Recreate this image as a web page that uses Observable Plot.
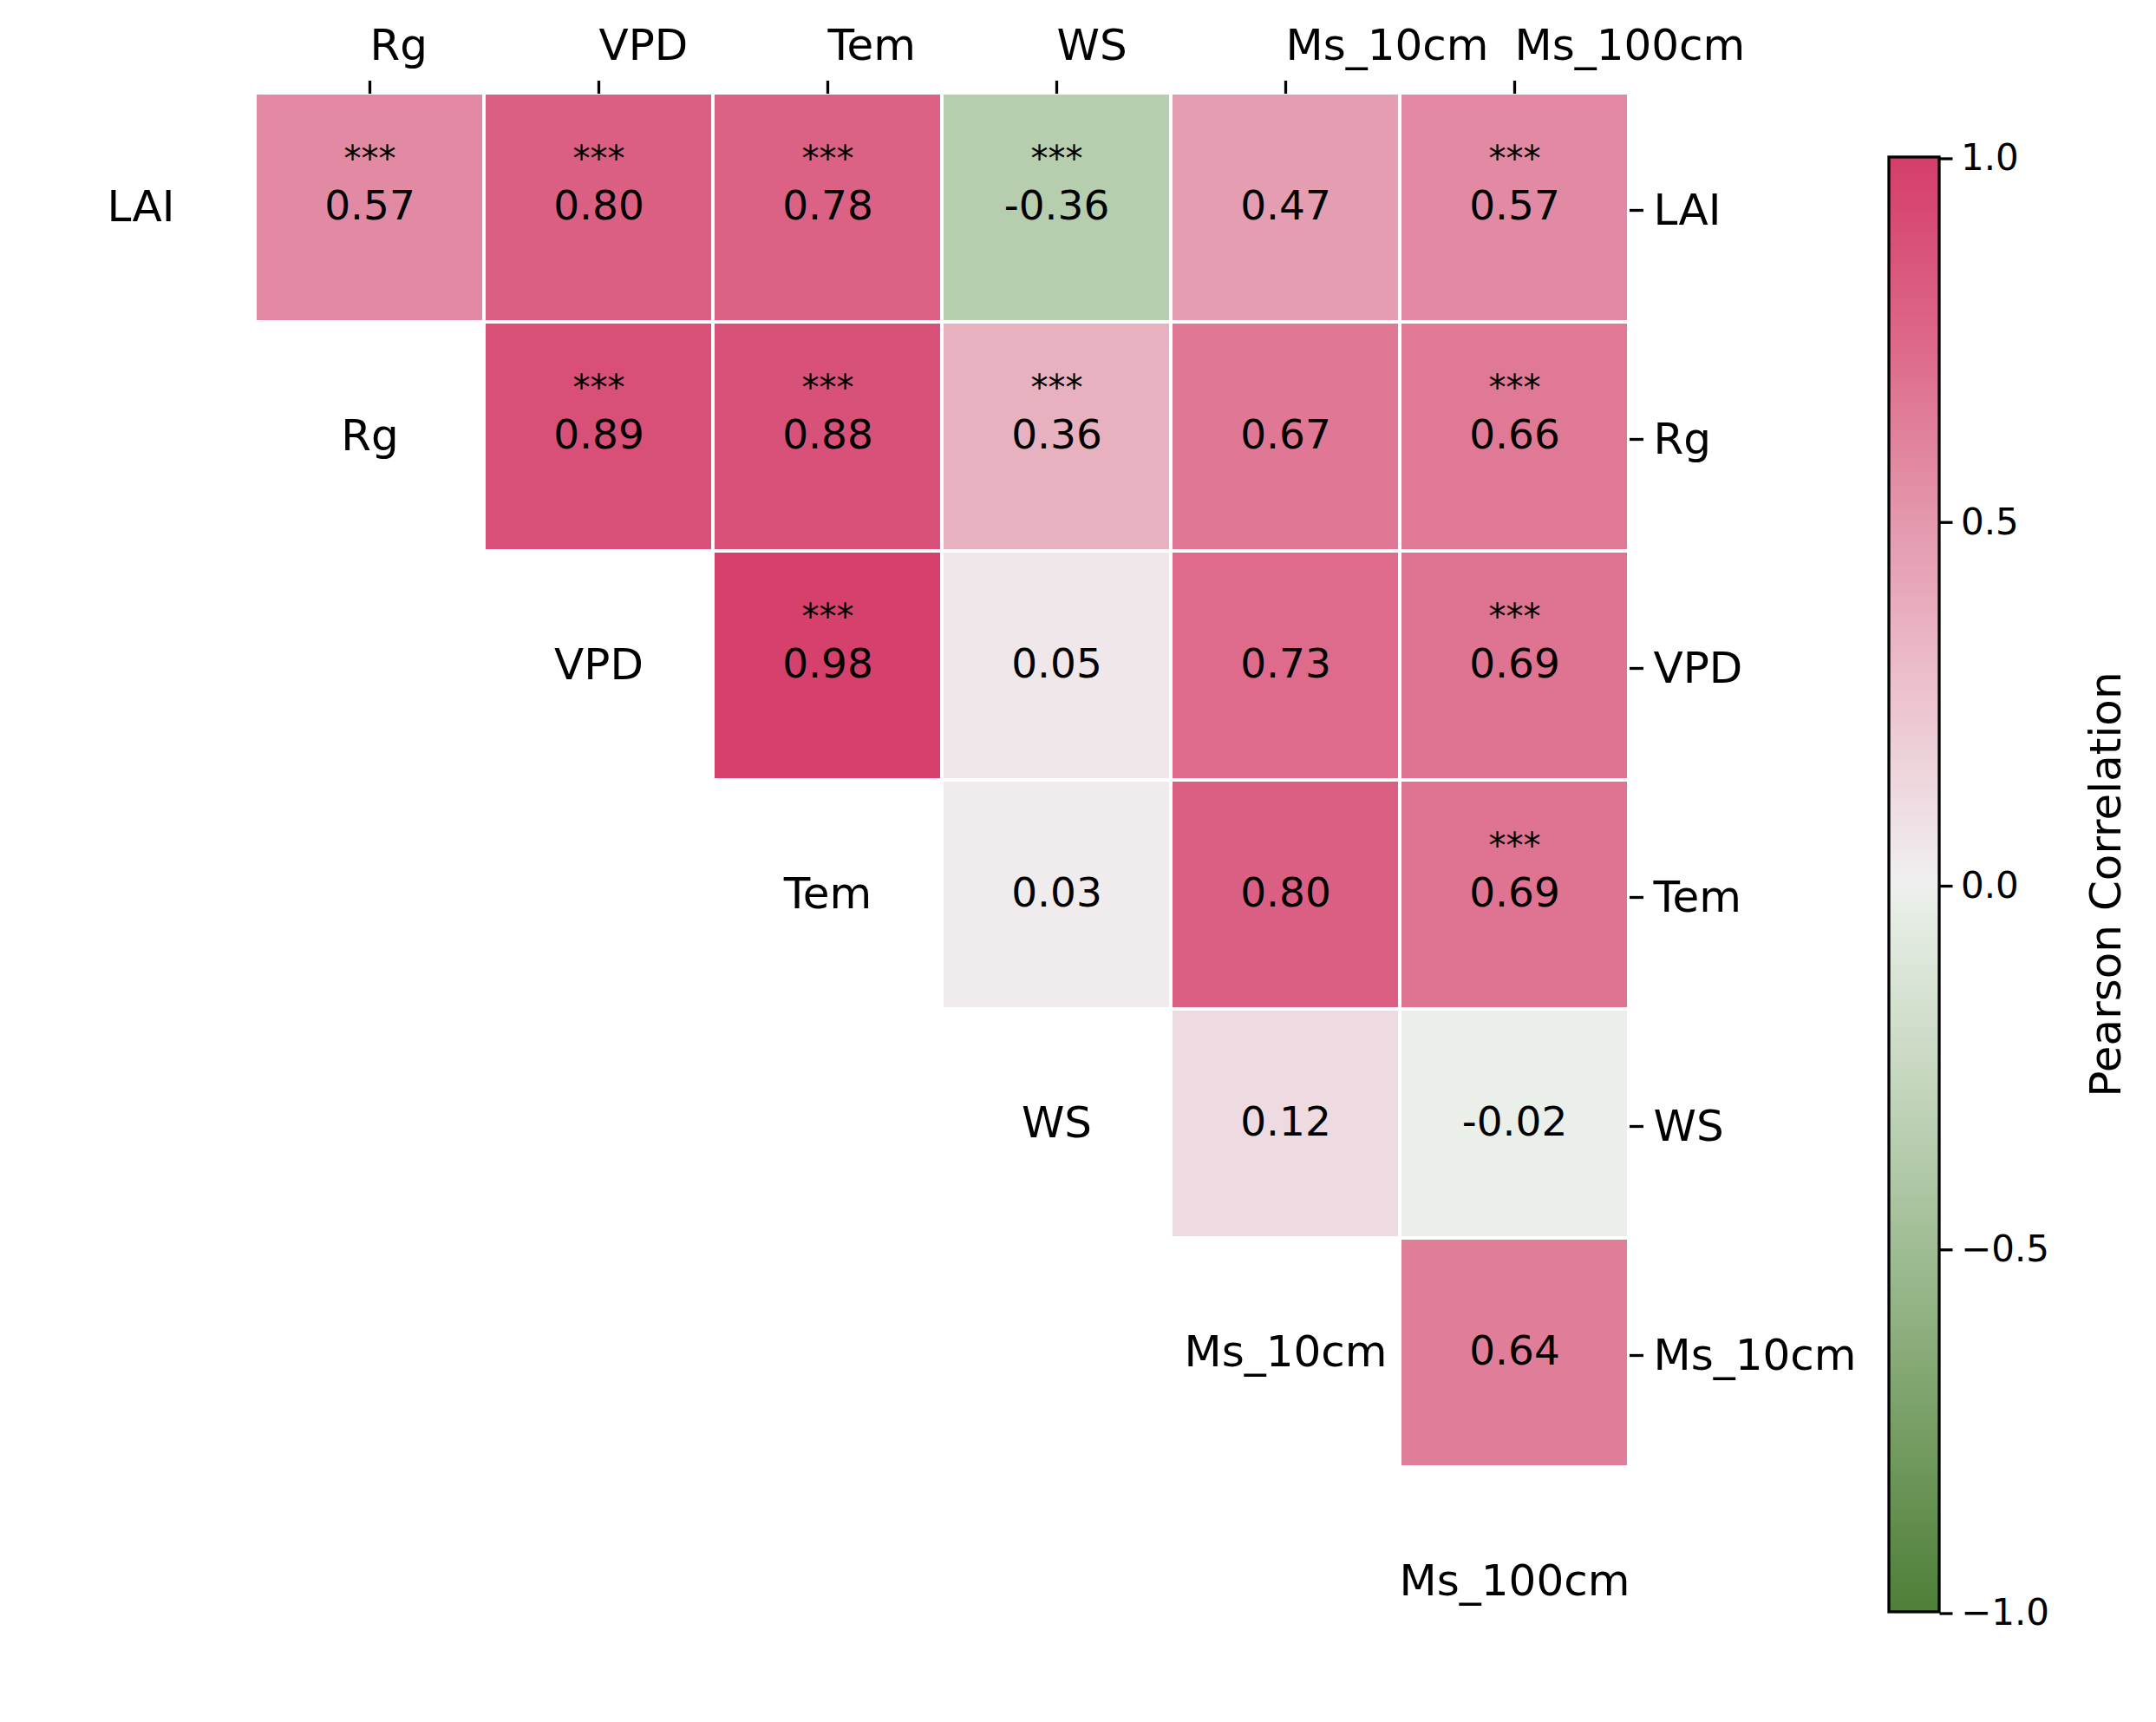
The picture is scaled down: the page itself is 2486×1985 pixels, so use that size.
<!DOCTYPE html>
<html>
<head>
<meta charset="utf-8">
<script src="https://cdn.jsdelivr.net/npm/d3@7"></script>
<script src="https://cdn.jsdelivr.net/npm/@observablehq/plot@0.6"></script>
<style>
html, body { margin: 0; padding: 0; background: #ffffff; }
#wrap { position: relative; width: 2486px; height: 1985px; font-family: "DejaVu Sans", sans-serif; }
#wrap svg { position: absolute; left: 0; top: 0; max-width: none; background: transparent; }
</style>
</head>
<body>
<div id="wrap"></div>
<script>
// ---- data ----
const variables = ["LAI", "Rg", "VPD", "Tem", "WS", "Ms_10cm", "Ms_100cm"];
const rowNames = ["LAI", "Rg", "VPD", "Tem", "WS", "Ms_10cm"];
const colNames = ["Rg", "VPD", "Tem", "WS", "Ms_10cm", "Ms_100cm"];

// upper-triangle correlations, row by row (columns to the right of the diagonal)
const r_LAI = [0.57, 0.80, 0.78, -0.36, 0.47, 0.57];
const r_Rg = [0.89, 0.88, 0.36, 0.67, 0.66];
const r_VPD = [0.98, 0.05, 0.73, 0.69];
const r_Tem = [0.03, 0.80, 0.69];
const r_WS = [0.12, -0.02];
const r_Ms10 = [0.64];

const sig_LAI = ["***", "***", "***", "***", "", "***"];
const sig_Rg = ["***", "***", "***", "", "***"];
const sig_VPD = ["***", "", "", "***"];
const sig_Tem = ["", "", "***"];
const sig_WS = ["", ""];
const sig_Ms10 = [""];

const colorbarTicks = [-1, -0.5, 0, 0.5, 1];
const colorPositions = [-1, -0.75, -0.5, -0.25, -0.03, 0, 0.03, 0.25, 0.5, 0.75, 1];
const colorStops = ["#4e7f37", "#779e65", "#a0bd94", "#c8d9c2", "#e8eee6", "#f0f0ef", "#f0ebed", "#ecc4cf", "#e498ad", "#dd6789", "#d43d6a"];

// ---- build table ----
const rowValues = [r_LAI, r_Rg, r_VPD, r_Tem, r_WS, r_Ms10];
const rowSigs = [sig_LAI, sig_Rg, sig_VPD, sig_Tem, sig_WS, sig_Ms10];
const cells = [];
rowNames.forEach((row, i) => {
  rowValues[i].forEach((v, j) => {
    cells.push({row, col: variables[i + 1 + j], r: v, sig: rowSigs[i][j]});
  });
});

const W = 2486, H = 1985;
const stopScale = d3.scaleLinear().domain(colorPositions).range(colorStops).interpolate(d3.interpolateRgb).clamp(true);
const interp = t => stopScale(-1 + 2 * t);
const colorScale = {type: "linear", domain: [-1, 1], interpolate: interp};
const baseStyle = {fontFamily: "DejaVu Sans", fontSize: "50px", background: "transparent", color: "black", overflow: "visible"};

const heat = Plot.plot({
  width: W, height: H,
  marginLeft: 29.5, marginRight: W - 1878, marginTop: 107, marginBottom: H - 1955,
  style: baseStyle,
  x: {domain: variables, padding: 0, label: null},
  y: {domain: variables, padding: 0, label: null},
  color: colorScale,
  marks: [
    Plot.cell(cells, {x: "col", y: "row", fill: "r", inset: 2}),
    Plot.text(cells, {x: "col", y: "row", text: d => d.r.toFixed(2), fontSize: 47, fill: "black", dy: -2}),
    Plot.text(cells.filter(d => d.sig), {x: "col", y: "row", text: "sig", fontSize: 40, fill: "black", dy: -55}),
    Plot.text(variables, {x: d => d, y: d => d, text: d => d, fontSize: 50, fill: "black", dy: -1}),
    Plot.axisX({anchor: "top", ticks: colNames, tickSize: 15, tickPadding: 24, textAnchor: "start",
      strokeWidth: 3.3, label: null, fontSize: 50}),
    Plot.axisY({anchor: "right", ticks: rowNames, tickSize: 16, tickPadding: 12,
      strokeWidth: 3.3, label: null, fontSize: 50, dy: 3})
  ]
});

const nSteps = 256;
const rampVals = d3.range(nSteps).map(i => -1 + 2 * i / nSteps);
const stepH = 2 / nSteps;
const fmt = d => (d < 0 ? "\u2212" : "") + Math.abs(d).toFixed(1);

const bar = Plot.plot({
  width: W, height: H,
  marginLeft: 2177.5, marginRight: W - 2235.5, marginTop: 180.5, marginBottom: H - 1857.5,
  style: baseStyle,
  x: {domain: [0, 1], axis: null},
  y: {domain: [-1, 1], label: null},
  color: colorScale,
  marks: [
    Plot.rect(rampVals, {x1: 0, x2: 1, y1: d => d, y2: d => Math.min(1, d + stepH * 1.6), fill: d => d + stepH / 2, shapeRendering: "crispEdges"}),
    Plot.frame({stroke: "black", strokeWidth: 3.3}),
    Plot.axisY({anchor: "right", ticks: colorbarTicks, tickFormat: fmt, tickSize: 15, tickPadding: 10,
      strokeWidth: 3.3, label: null, fontSize: 42, dy: 2}),
    Plot.text(["Pearson Correlation"], {frameAnchor: "right", dx: 192.5, rotate: -90, textAnchor: "middle", fontSize: 50, fill: "black"})
  ]
});

const wrap = document.getElementById("wrap");
wrap.appendChild(heat);
wrap.appendChild(bar);
</script>
</body>
</html>
